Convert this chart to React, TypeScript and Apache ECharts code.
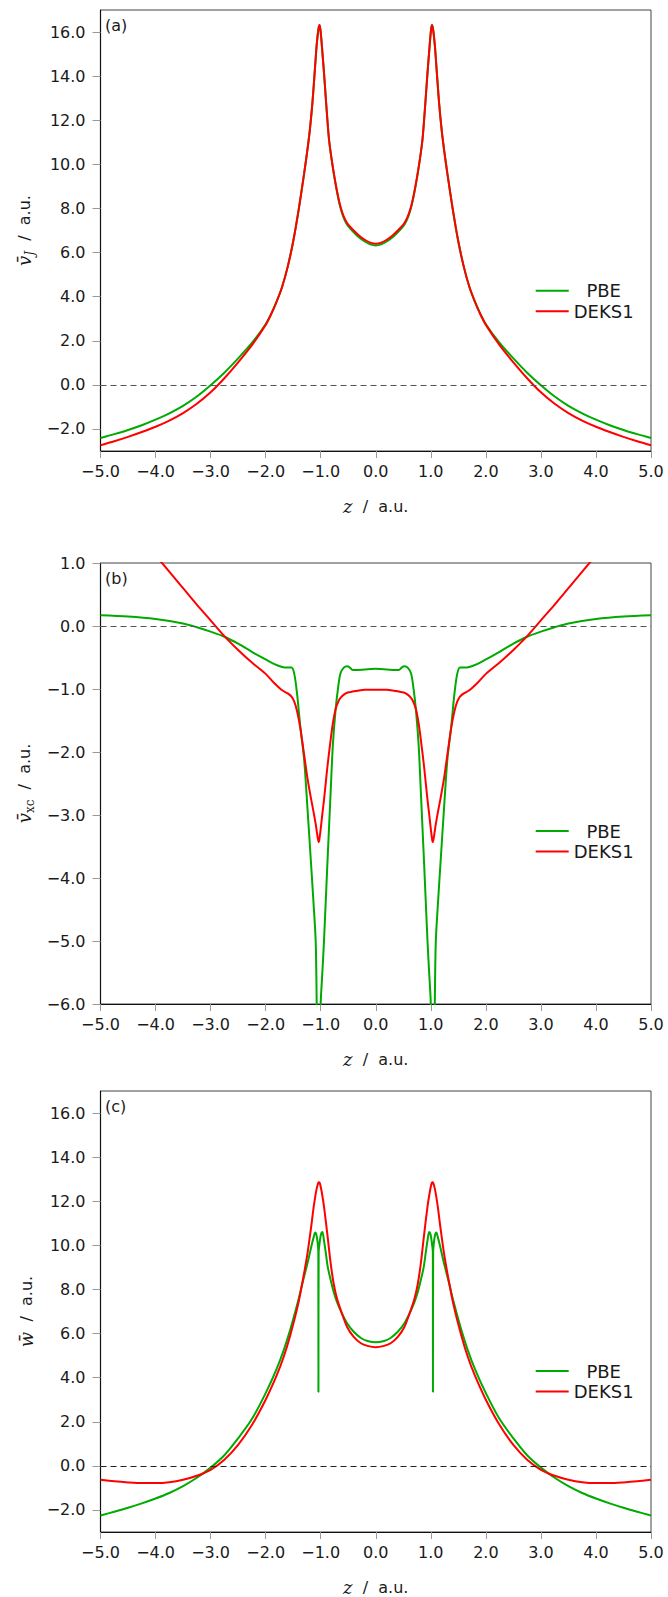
import React, { useEffect, useRef } from 'react';
import * as echarts from 'echarts';

// ---------- data ----------
const zA = [-5, -4.75, -4.5, -4.25, -4, -3.75, -3.5, -3.25, -3, -2.75, -2.5, -2.25, -2, -1.9, -1.8, -1.7, -1.6, -1.5, -1.4, -1.3, -1.25, -1.2, -1.15, -1.1, -1.07, -1.04, -1.02, -1.0, -0.97, -0.94, -0.9, -0.85, -0.8, -0.75, -0.7, -0.65, -0.6, -0.55, -0.5, -0.4, -0.3, -0.2, -0.1, 0,
  0.1, 0.2, 0.3, 0.4, 0.5, 0.55, 0.6, 0.65, 0.7, 0.75, 0.8, 0.85, 0.9, 0.94, 0.97, 1.0, 1.02, 1.04, 1.07, 1.1, 1.15, 1.2, 1.25, 1.3, 1.4, 1.5, 1.6, 1.7, 1.8, 1.9, 2, 2.25, 2.5, 2.75, 3, 3.25, 3.5, 3.75, 4, 4.25, 4.5, 4.75, 5];
const pbeA = [-2.41, -2.235, -2.045, -1.83, -1.58, -1.29, -0.95, -0.53, -0.02, 0.55, 1.20, 1.9, 2.75, 3.22, 3.78, 4.45, 5.35, 6.5, 7.95, 9.6, 10.5, 11.5, 12.8, 14.5, 15.5, 16.15, 16.32, 16.0, 15.1, 14.15, 12.75, 11.15, 10.2, 9.4, 8.7, 8.12, 7.7, 7.4, 7.2, 6.92, 6.68, 6.5, 6.37, 6.32,
  6.37, 6.5, 6.68, 6.92, 7.2, 7.4, 7.7, 8.12, 8.7, 9.4, 10.2, 11.15, 12.75, 14.15, 15.1, 16.0, 16.32, 16.15, 15.5, 14.5, 12.8, 11.5, 10.5, 9.6, 7.95, 6.5, 5.35, 4.45, 3.78, 3.22, 2.75, 1.9, 1.20, 0.55, -0.02, -0.53, -0.95, -1.29, -1.58, -1.83, -2.045, -2.235, -2.41];
const deksA = [-2.74, -2.56, -2.36, -2.14, -1.90, -1.62, -1.28, -0.86, -0.34, 0.30, 1.02, 1.80, 2.72, 3.2, 3.78, 4.45, 5.35, 6.5, 7.95, 9.6, 10.5, 11.5, 12.8, 14.5, 15.5, 16.15, 16.32, 16.0, 15.1, 14.15, 12.75, 11.15, 10.2, 9.42, 8.74, 8.17, 7.76, 7.47, 7.27, 7.0, 6.76, 6.58, 6.45, 6.4,
  6.45, 6.58, 6.76, 7.0, 7.27, 7.47, 7.76, 8.17, 8.74, 9.42, 10.2, 11.15, 12.75, 14.15, 15.1, 16.0, 16.32, 16.15, 15.5, 14.5, 12.8, 11.5, 10.5, 9.6, 7.95, 6.5, 5.35, 4.45, 3.78, 3.2, 2.72, 1.80, 1.02, 0.30, -0.34, -0.86, -1.28, -1.62, -1.90, -2.14, -2.36, -2.56, -2.74];

const zB = [-5, -4.5, -4, -3.5, -3.25, -3, -2.75, -2.5, -2.25, -2, -1.85, -1.7, -1.6, -1.53, -1.48, -1.43, -1.37, -1.3, -1.24, -1.18, -1.13, -1.09, -1.07, -1.05, -1.035, -1.02, -1.0, -0.97, -0.94, -0.88, -0.82, -0.78, -0.73, -0.68, -0.64, -0.58, -0.52, -0.47, -0.42, -0.35, -0.2, 0,
  0.2, 0.35, 0.42, 0.47, 0.52, 0.58, 0.64, 0.68, 0.73, 0.78, 0.82, 0.88, 0.94, 0.97, 1.0, 1.02, 1.035, 1.05, 1.07, 1.09, 1.13, 1.18, 1.24, 1.3, 1.37, 1.43, 1.48, 1.53, 1.6, 1.7, 1.85, 2, 2.25, 2.5, 2.75, 3, 3.25, 3.5, 4, 4.5, 5];
const pbeB = [0.17, 0.15, 0.11, 0.04, -0.02, -0.09, -0.17, -0.28, -0.41, -0.53, -0.60, -0.65, -0.66, -0.66, -0.76, -1.07, -1.6, -2.13, -2.9, -3.71, -4.4, -5.03, -6.2, -7.5, -8.5, -7.5, -6.0, -5.5, -5.0, -3.8, -2.65, -1.9, -1.33, -0.95, -0.75, -0.66, -0.64, -0.66, -0.70, -0.70, -0.69, -0.68,
  -0.69, -0.70, -0.70, -0.66, -0.64, -0.66, -0.75, -0.95, -1.33, -1.9, -2.65, -3.8, -5.0, -5.5, -6.0, -7.5, -8.5, -7.5, -6.2, -5.03, -4.4, -3.71, -2.9, -2.13, -1.6, -1.07, -0.76, -0.66, -0.66, -0.65, -0.60, -0.53, -0.41, -0.28, -0.17, -0.09, -0.02, 0.04, 0.11, 0.15, 0.17];
const deksB = [2.1, 1.6, 1.12, 0.6, 0.34, 0.09, -0.16, -0.38, -0.58, -0.76, -0.9, -1.02, -1.07, -1.12, -1.2, -1.35, -1.62, -2.05, -2.42, -2.72, -2.95, -3.15, -3.27, -3.38, -3.43, -3.36, -3.22, -2.98, -2.76, -2.25, -1.81, -1.55, -1.32, -1.2, -1.14, -1.09, -1.06, -1.05, -1.04, -1.03, -1.01, -1.01,
  -1.01, -1.03, -1.04, -1.05, -1.06, -1.09, -1.14, -1.2, -1.32, -1.55, -1.81, -2.25, -2.76, -2.98, -3.22, -3.36, -3.43, -3.38, -3.27, -3.15, -2.95, -2.72, -2.42, -2.05, -1.62, -1.35, -1.2, -1.12, -1.07, -1.02, -0.9, -0.76, -0.58, -0.38, -0.16, 0.09, 0.34, 0.6, 1.12, 1.6, 2.1];

const zC = [-5, -4.75, -4.5, -4.25, -4, -3.75, -3.5, -3.25, -3, -2.75, -2.5, -2.25, -2, -1.8, -1.67, -1.55, -1.42, -1.33, -1.24, -1.17, -1.13, -1.1, -1.075, -1.055, -1.043, -1.041, -1.039, -1.037, -1.02, -0.995, -0.97, -0.945, -0.91, -0.87, -0.82, -0.76, -0.7, -0.62, -0.52, -0.4, -0.27, -0.15, 0,
  0.15, 0.27, 0.4, 0.52, 0.62, 0.7, 0.76, 0.82, 0.87, 0.91, 0.945, 0.97, 0.995, 1.02, 1.037, 1.039, 1.041, 1.043, 1.055, 1.075, 1.1, 1.13, 1.17, 1.24, 1.33, 1.42, 1.55, 1.67, 1.8, 2, 2.25, 2.5, 2.75, 3, 3.25, 3.5, 3.75, 4, 4.25, 4.5, 4.75, 5];
const pbeC = [-2.25, -2.08, -1.9, -1.7, -1.48, -1.23, -0.92, -0.54, -0.08, 0.48, 1.25, 2.12, 3.3, 4.4, 5.26, 6.2, 7.38, 8.3, 9.19, 9.95, 10.35, 10.58, 10.45, 10.1, 9.7, 3.35, 3.35, 9.7, 10.1, 10.5, 10.6, 10.3, 9.7, 9.0, 8.44, 7.85, 7.4, 6.95, 6.47, 6.08, 5.8, 5.66, 5.6,
  5.66, 5.8, 6.08, 6.47, 6.95, 7.4, 7.85, 8.44, 9.0, 9.7, 10.3, 10.6, 10.5, 10.1, 9.7, 3.35, 3.35, 9.7, 10.1, 10.45, 10.58, 10.35, 9.95, 9.19, 8.3, 7.38, 6.2, 5.26, 4.4, 3.3, 2.12, 1.25, 0.48, -0.08, -0.54, -0.92, -1.23, -1.48, -1.7, -1.9, -2.08, -2.25];
const deksC = [-0.63, -0.70, -0.75, -0.78, -0.78, -0.74, -0.63, -0.45, -0.18, 0.28, 0.95, 1.85, 3.0, 4.1, 4.96, 5.95, 7.22, 8.35, 9.64, 10.9, 11.7, 12.2, 12.55, 12.75, 12.83, 12.84, 12.85, 12.86, 12.84, 12.6, 12.25, 11.85, 11.15, 10.3, 9.2, 8.2, 7.55, 6.95, 6.3, 5.85, 5.56, 5.44, 5.38,
  5.44, 5.56, 5.85, 6.3, 6.95, 7.55, 8.2, 9.2, 10.3, 11.15, 11.85, 12.25, 12.6, 12.84, 12.86, 12.85, 12.84, 12.83, 12.75, 12.55, 12.2, 11.7, 10.9, 9.64, 8.35, 7.22, 5.95, 4.96, 4.1, 3.0, 1.85, 0.95, 0.28, -0.18, -0.45, -0.63, -0.74, -0.78, -0.78, -0.75, -0.70, -0.63];

const seriesNames = ['PBE', 'DEKS1'];
const panelLabels = ['(a)', '(b)', '(c)'];
const xTicks = [-5, -4, -3, -2, -1, 0, 1, 2, 3, 4, 5];
const yTicksAC = [-2, 0, 2, 4, 6, 8, 10, 12, 14, 16];
const yTicksB = [-6, -5, -4, -3, -2, -1, 0, 1];

// ---------- style ----------
const GREEN = '#00aa00';
const RED = '#ff0000';
const SANS = '"DejaVu Sans", sans-serif';
const SERIF = '"DejaVu Serif", serif';
const TEXT = '#1a1a1a';
const GRID_TOPS = [10, 563, 1091];
const GRID_H = 441;
const GRID_L = 100.5;
const GRID_W = 550.5;
const LEGEND_TOPS = [276.7, 817, 1357];

const pairs = (z: number[], v: number[]) => z.map((x, i) => [x, v[i]]);
const fmt = (v: number) => (v < 0 ? '\u2212' : '') + Math.abs(v).toFixed(1);

const richY = {
  v: { fontFamily: SERIF, fontStyle: 'italic', fontSize: 18, lineHeight: 22, color: TEXT },
  s: { fontFamily: SERIF, fontStyle: 'italic', fontSize: 12, lineHeight: 12, verticalAlign: 'bottom', color: TEXT },
  r: { fontFamily: SERIF, fontSize: 12, lineHeight: 12, verticalAlign: 'bottom', color: TEXT },
  u: { fontFamily: SANS, fontSize: 16, lineHeight: 22, color: TEXT },
};
const yNames = ['{v|v\u0304}{s|J}{u|  /  a.u.}', '{v|v\u0304}{r|xc}{u|  /  a.u.}', '{v|w\u0304}{u|  /  a.u.}'];

export default function App() {
  const ref = useRef<HTMLDivElement>(null);
  useEffect(() => {
    if (!ref.current) return;
    const chart = echarts.init(ref.current, undefined, { renderer: 'svg' });
    const data = [
      [pairs(zA, pbeA), pairs(zA, deksA)],
      [pairs(zB, pbeB), pairs(zB, deksB)],
      [pairs(zC, pbeC), pairs(zC, deksC)],
    ];
    const grids = GRID_TOPS.map((t) => ({
      left: GRID_L, top: t, width: GRID_W, height: GRID_H,
      show: true, borderColor: '#444', borderWidth: 1, backgroundColor: 'transparent',
    }));
    const xAxes = [0, 1, 2].map((i) => ({
      type: 'value', gridIndex: i, min: -5, max: 5, interval: 1,
      axisLine: { show: true, onZero: false, lineStyle: { color: '#111', width: 1.2 } },
      axisTick: { show: true, length: 7, customValues: xTicks, lineStyle: { color: '#999', width: 1 } },
      axisLabel: { customValues: xTicks, formatter: fmt, fontFamily: SANS, fontSize: 16, color: TEXT, margin: 12 },
      splitLine: { show: false },
      name: '{i|z}{u|  /  a.u.}', nameLocation: 'middle', nameGap: 45,
      nameTextStyle: {
        rich: {
          i: { fontFamily: SERIF, fontStyle: 'italic', fontSize: 18, lineHeight: 20, color: TEXT },
          u: { fontFamily: SANS, fontSize: 16, lineHeight: 20, color: TEXT },
        },
      },
    }));
    const yAxes = [0, 1, 2].map((i) => {
      const isB = i === 1;
      const ticks = isB ? yTicksB : yTicksAC;
      return {
        type: 'value', gridIndex: i,
        min: isB ? -6 : -3, max: isB ? 1 : 17, interval: 1,
        axisLine: { show: true, onZero: false, lineStyle: { color: '#111', width: 1.2 } },
        axisTick: { show: true, length: 8, customValues: ticks, lineStyle: { color: '#999', width: 1 } },
        axisLabel: { customValues: ticks, formatter: fmt, fontFamily: SANS, fontSize: 16, color: TEXT, margin: 15 },
        splitLine: { show: false },
        name: yNames[i], nameLocation: 'middle', nameGap: 60,
        nameTextStyle: { rich: richY },
      };
    });
    const series: any[] = [];
    data.forEach((pd, i) => {
      series.push({
        name: seriesNames[0], type: 'line', xAxisIndex: i, yAxisIndex: i, data: pd[0],
        symbol: 'none', showSymbol: false, clip: true, smooth: 0.3,
        lineStyle: { color: GREEN, width: 2 }, itemStyle: { color: GREEN },
        markLine: {
          silent: true, symbol: ['none', 'none'], label: { show: false },
          lineStyle: { type: [6, 4], color: i === 2 ? '#222' : '#555', width: 1.2 },
          data: [{ yAxis: 0 }],
        },
        z: 2,
      });
      series.push({
        name: seriesNames[1], type: 'line', xAxisIndex: i, yAxisIndex: i, data: pd[1],
        symbol: 'none', showSymbol: false, clip: true, smooth: 0.3,
        lineStyle: { color: RED, width: 2 }, itemStyle: { color: RED },
        z: 3,
      });
    });
    const legends = LEGEND_TOPS.map((t) => ({
      orient: 'vertical', left: 530.7, top: t, padding: 5,
      itemWidth: 33, itemHeight: 2, itemGap: 2.5, icon: 'rect',
      selectedMode: false, data: seriesNames,
      formatter: (n: string) => `{t|${n}}`,
      textStyle: { rich: { t: { width: 60, align: 'center', fontFamily: SANS, fontSize: 18, lineHeight: 20, color: TEXT } } },
    }));
    const graphic = GRID_TOPS.map((t, i) => ({
      type: 'text', left: 105, top: t + 7,
      style: { text: panelLabels[i], fontFamily: SANS, fontSize: 16, fill: TEXT },
    }));
    chart.setOption({
      animation: false,
      backgroundColor: '#ffffff',
      grid: grids, xAxis: xAxes, yAxis: yAxes, series, legend: legends, graphic,
    });
    return () => chart.dispose();
  }, []);
  return <div ref={ref} style={{ position: 'absolute', left: 0, top: 0, width: 668, height: 1597 }} />;
}
